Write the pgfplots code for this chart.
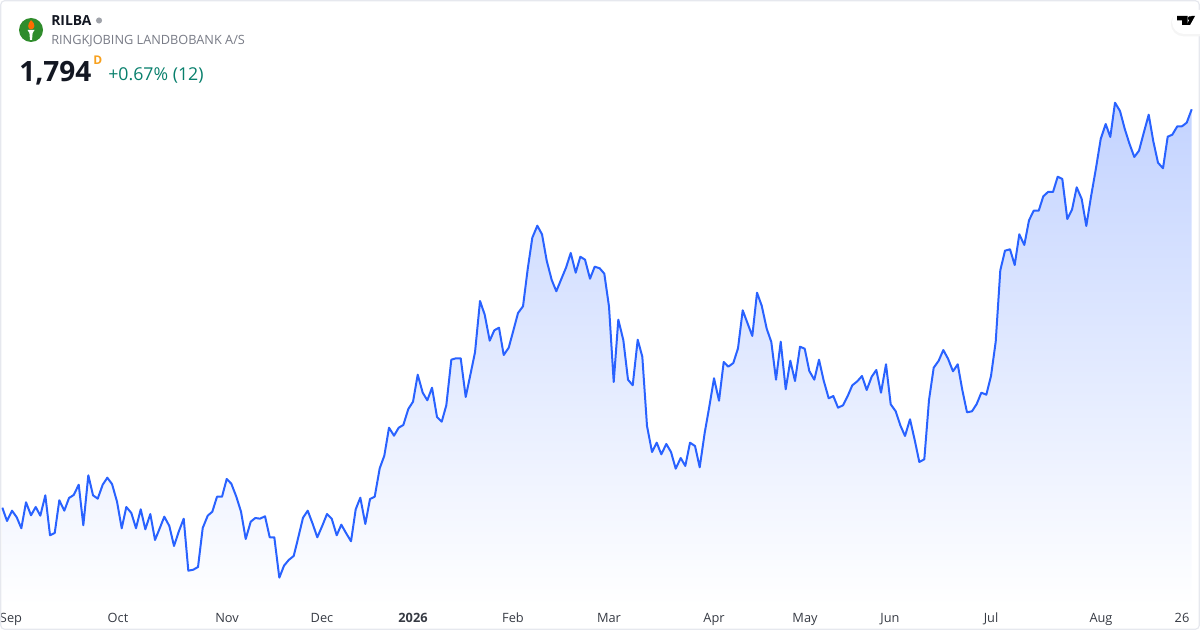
\documentclass[border=0pt]{standalone}
\usepackage{fontspec}
\setmainfont{Open Sans}
\usepackage{pgfplots}
\usepackage{pgfplotstable}
\pgfplotsset{compat=1.18}
\definecolor{tvblue}{HTML}{2962FF}
\definecolor{filltop}{HTML}{C3D3FF}
\definecolor{tvink}{HTML}{131722}
\definecolor{tvgrey}{HTML}{787B86}
\definecolor{tvteal}{HTML}{087F6C}
\definecolor{tvorange}{HTML}{F7A01D}
\definecolor{tvborder}{HTML}{E6E8EE}
\definecolor{logogreen}{HTML}{2F8C2C}
\pgfplotstableread{
x y
2.3 507.7
7 521
12 510.7
16.7 517.3
21.3 528.3
26 502.3
31 515.3
35.7 507
40.3 515.7
45.3 495.3
50 535.3
54.7 533
59.3 500.3
64.3 510.7
69 498
73.7 495
78.7 484.7
83.3 525.3
88.3 475.3
93 495.3
97.7 498.7
102.7 484.7
107.3 477.7
112 484
117 501.7
121.7 528.3
126.3 507
131.3 513
136 528.3
140.7 509.3
145.3 529.3
150.3 514
155 540
159.7 528.3
164.3 516.7
169.3 526
174 546
178.7 531.7
183.7 518.7
188.3 570.7
193.3 569.7
198 567
202.7 528
207.7 515.7
212.3 511.7
217 496.7
222 496.7
226.7 479
231.3 483.7
236.3 496.7
241 511.7
245.7 539
250.7 521.7
255.3 518
260 518.7
265 516.3
269.7 537.3
274.3 537.3
279.3 577.7
284 565.7
288.7 560
293.7 556
298.3 537.3
303 517.7
307.7 510.7
312.7 524
317.3 537.3
322.3 525.7
327 514
331.7 518.7
336.7 535.3
341.3 524.7
346 533
351 541.3
355.7 509.3
360.3 497.7
365.3 524
370 499
374.7 496.7
379.7 468.3
384.3 455.7
389 427.7
394 435.7
398.7 427.7
403.3 425
408.3 409
413 401.7
417.7 374.7
422.7 392.7
427.3 400.3
432 387.7
437 417
441.7 421.7
446.3 405.3
451.3 359.7
456 358.3
460.7 358.3
465.7 397
470.3 375
475 352.3
480 301
484.7 314.7
489.7 340.7
494.3 330.3
499 327.7
503.7 355
508.7 347.7
513.3 330.7
518 313
523 306.3
527.7 269
532.3 237.7
537.3 225.7
542 234.3
546.7 260.7
551.7 280
556.3 291.3
561.3 279
566 267.7
570.7 253
575.7 272.7
580.3 256.7
585 259.7
590 278.7
594.7 266.7
599.7 268.3
604.3 273.7
609 306.7
613.7 382
618.3 319.7
623.3 340
628 379.7
632.7 385.3
637.7 339.7
642.3 356.7
647 426
652 452
656.7 442.7
661.3 454.3
666.3 444
671 452
675.7 468.7
680.7 458
685.3 466
690 442.7
695 446
699.7 467.3
704.7 432.7
709.3 406.7
714 378.3
719 400.7
723.7 362
728.3 366.7
733.3 363
738 348.3
742.7 310.3
747.3 322.7
752.3 336
757 292.7
761.7 305.7
766.7 328.7
771.3 342
776 379.7
780.7 341.7
785.7 389.3
790.3 360.7
795 381
800 346.7
804.7 348.7
809.3 371
814.3 379.7
819 359.7
823.7 380.7
828.7 398.3
833.3 396
838 407.7
843 405.3
847.7 396
852.3 385.3
857.3 381.3
862 376
866.7 390
871.7 376.7
876.3 370
881 392.7
886 364.3
890.7 404.3
895.7 411.3
900.3 425.3
905 436
910 419.3
914.7 440
919.3 462
924.3 459.3
929 400
933.7 367.7
938.7 360.7
943.3 350
948 358.7
953 371.3
957.7 364.3
962.3 390
967 412.3
972 411.3
976.7 404
981.3 392.7
986.3 394.7
991 376
995.7 341.7
1000.3 270.3
1005 250.7
1010 249.3
1014.7 265
1019.3 234.3
1024.3 245
1029 220.3
1033.7 210.7
1038.7 210.7
1043.3 196.3
1048 192
1053 192
1057.7 176.7
1062.3 179
1067.3 219
1072 209.7
1076.7 187.3
1081.7 199
1086.3 226
1091 196.7
1096 168
1100.7 139
1105.7 124
1110.3 137
1115 102.7
1120 111
1124.7 128.7
1129.3 143.3
1134.3 157
1139 150.7
1143.7 133
1148.7 114.7
1153.3 141.3
1158 162.7
1163 168.3
1167.7 136.7
1172.3 134.7
1177.3 126.3
1182 126.3
1186.7 122.7
1191.7 109.3
}\pricedata
\begin{document}
\begin{tikzpicture}[x=1pt,y=1pt]
\begin{axis}[
  scale only axis,
  width=900pt,
  height=472.5pt,
  xmin=0, xmax=1200,
  ymin=0, ymax=630,
  y dir=reverse,
  clip=false,
  axis line style={draw=none},
  tick style={draw=none},
  ytick=\empty,
  xtick={11,118,227,322,413,513,609,714,805,890,991,1101,1182},
  xticklabels={Sep,Oct,Nov,Dec,\textbf{2026},Feb,Mar,Apr,May,Jun,Jul,Aug,26},
  xticklabel pos=lower,
  x tick label style={font=\fontsize{9.6pt}{11pt}\selectfont, text=tvink!85, anchor=base, yshift=5.7pt, inner sep=0pt},
  /pgf/number format/assume math mode=true,
]
\addplot[draw=none, top color=filltop, bottom color=white, forget plot]
  table[x=x,y=y] {\pricedata} -- (axis cs:1191.7,606) -- (axis cs:2.3,606) -- cycle;
\addplot[color=tvblue, line width=1.5pt, line join=round, mark=none, forget plot]
  table[x=x,y=y] {\pricedata};
% card border
\draw[tvborder, line width=0.9pt, rounded corners=3pt] (axis cs:0.7,0.7) rectangle (axis cs:1199.3,629.3);
% symbol logo
\fill[logogreen] (axis cs:31,30) circle[radius=9pt];
\fill[white] (axis cs:27.5,30) -- (axis cs:34.5,30) -- (axis cs:32.6,33) -- (axis cs:32,40) -- (axis cs:30,40) -- (axis cs:29.4,33) -- cycle;
\fill[orange!85!red] (axis cs:31,20) .. controls (axis cs:36,24) and (axis cs:35,29) .. (axis cs:31,29.5) .. controls (axis cs:27,29) and (axis cs:27.5,24) .. (axis cs:31,20);
% header
\node[anchor=base west, inner sep=0pt, text=tvink, font=\fontsize{10.4pt}{12pt}\selectfont\bfseries] at (axis cs:51,26) {RILBA};
\fill[tvgrey!70] (axis cs:99,20.5) circle[radius=2.3pt];
\node[anchor=base west, inner sep=0pt, text=tvgrey, font=\fontsize{9.55pt}{11pt}\selectfont] at (axis cs:51,45) {RINGKJOBING LANDBOBANK A/S};
\node[anchor=base west, inner sep=0pt, text=tvink, font=\fontsize{21pt}{24pt}\selectfont\bfseries] at (axis cs:19,82) {1,794};
\node[anchor=base west, inner sep=0pt, text=tvorange, font=\fontsize{9pt}{10pt}\selectfont\bfseries] at (axis cs:93,65) {D};
\node[anchor=base west, inner sep=0pt, text=tvteal, font=\fontsize{13.3pt}{15pt}\selectfont] at (axis cs:108,81) {+0.67\% (12)};
% vendor mark
\fill[black!4] (axis cs:1200,11) -- (axis cs:1183.5,11) arc[start angle=90,end angle=270,radius=9.5pt] -- (axis cs:1200,36.3) -- cycle;
\fill[white] (axis cs:1200,10) -- (axis cs:1184,10) arc[start angle=90,end angle=270,radius=9pt] -- (axis cs:1200,34) -- cycle;
\fill[black] (axis cs:1177,16) -- (axis cs:1187.5,16) -- (axis cs:1187.5,25) -- (axis cs:1182,25) -- (axis cs:1182,20.5) -- (axis cs:1177,20.5) -- cycle;
\fill[black] (axis cs:1190,18.3) circle[radius=1.6pt];
\fill[black] (axis cs:1191.5,16) -- (axis cs:1195,16) -- (axis cs:1190,25) -- (axis cs:1186.5,25) -- cycle;
\end{axis}
\end{tikzpicture}
\end{document}
